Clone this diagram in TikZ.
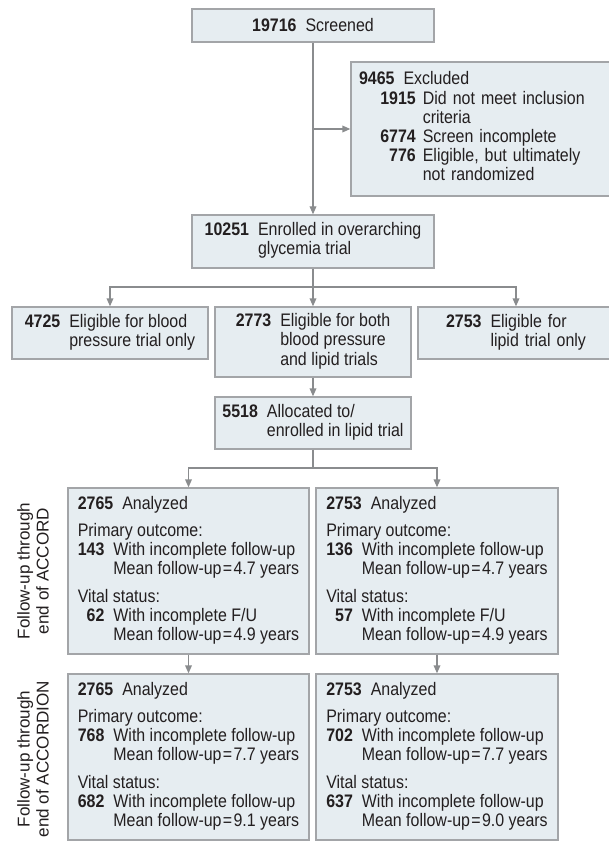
\documentclass[tikz,border=0pt]{standalone}
\usepackage{fontspec}
\setmainfont{Liberation Sans}[FakeStretch=0.88]
\newfontfamily\sidefont{Liberation Sans}
\usetikzlibrary{arrows.meta, positioning}

\definecolor{boxfill}{HTML}{E6EDF1}
\definecolor{boxline}{HTML}{A3A5A8}
\definecolor{linkgray}{HTML}{8A8C8E}
\definecolor{textdark}{HTML}{231F20}

% text of one analyzed arm
\newcommand{\analyzed}[6]{%
  \begin{tabular}{@{}r@{\hspace{6.75pt}}l@{}}
  \multicolumn{2}{@{}l@{}}{\textbf{#1}\hspace{6.75pt}Analyzed}\\[6pt]
  \multicolumn{2}{@{}l@{}}{Primary outcome:}\\
  \textbf{#2} & With incomplete follow-up\\
   & Mean follow-up\kern1pt=\kern1pt#3 years\\[6pt]
  \multicolumn{2}{@{}l@{}}{Vital status:}\\
  \textbf{#4} & With incomplete #5\\
   & Mean follow-up\kern1pt=\kern1pt#6 years
  \end{tabular}}

\begin{document}
\begin{tikzpicture}[
  x=0.75pt, y=-0.75pt,
  font=\fontsize{13.6pt}{14.4pt}\selectfont,
  box/.style={draw=boxline, fill=boxfill, line width=1pt, inner sep=0pt, text=textdark},
  edgebox/.style={box, inner ysep=0pt, align=left},
  link/.style={draw=linkgray, line width=1pt},
  arrow/.style={link, -{Triangle[length=6pt, width=5pt]}},
  side/.style={rotate=90, align=center, text=textdark,
    font=\sidefont\fontsize{12.8pt}{14.4pt}\selectfont}]

  \path[use as bounding box, fill=white] (0,0) rectangle (608,841);

  \node[box, minimum width=181.5pt, minimum height=24.75pt] (screen) at (313,25.5)
    {\textbf{19716}\hspace{6.75pt}Screened};
  % runs off the right edge, as in the print
  \node[edgebox, inner xsep=6pt, text width=204.75pt, minimum height=100.5pt] (excl) at (495.5,129) {%
    \begin{tabular}{@{}l@{}r@{\hspace{5.25pt}}l@{}}
    \multicolumn{3}{@{}l@{}}{\textbf{9465}\hspace{6.75pt}Excluded}\\
    \hspace{16pt} & \textbf{1915} & Did not meet inclusion\\
     & & criteria\\
     & \textbf{6774} & Screen incomplete\\
     & \textbf{776} & Eligible, but ultimately\\
     & & not randomized
    \end{tabular}};
  \node[box, minimum width=181.5pt, minimum height=39.75pt] (enrol) at (313,241.5) {%
    \begin{tabular}{@{}r@{\hspace{6.75pt}}l@{}}
    \textbf{10251} & Enrolled in overarching\\
     & glycemia trial
    \end{tabular}};

  % eligibility
  \node[box, minimum width=147pt, minimum height=39pt] (bp) at (110,333) {%
    \begin{tabular}{@{}r@{\hspace{6.75pt}}l@{}}
    \textbf{4725} & Eligible for blood\\
     & pressure trial only
    \end{tabular}};
  \node[box, minimum width=147pt, minimum height=52.5pt] (both) at (313,342) {%
    \begin{tabular}{@{}r@{\hspace{6.75pt}}l@{}}
    \textbf{2773} & Eligible for both\\
     & blood pressure\\
     & and lipid trials
    \end{tabular}};
  \node[edgebox, inner xsep=21pt, text width=124.5pt, minimum height=39pt] (lipid) at (529,333) {%
    \begin{tabular}{@{}r@{\hspace{6.75pt}}l@{}}
    \textbf{2753} & Eligible for\\
     & lipid trial only
    \end{tabular}};
  \node[box, minimum width=147pt, minimum height=39pt] (alloc) at (313,423) {%
    \begin{tabular}{@{}r@{\hspace{6.75pt}}l@{}}
    \textbf{5518} & Allocated to/\\
     & enrolled in lipid trial
    \end{tabular}};

  % arms
  \node[box, minimum width=180.75pt, minimum height=124.5pt] (accL) at (188.5,571)
    {\analyzed{2765}{143}{4.7}{62}{F/U}{4.9}};
  \node[box, minimum width=181.5pt, minimum height=124.5pt] (accR) at (437,571)
    {\analyzed{2753}{136}{4.7}{57}{F/U}{4.9}};
  \node[box, minimum width=180.75pt, minimum height=124.5pt] (acnL) at (188.5,757)
    {\analyzed{2765}{768}{7.7}{682}{follow-up}{9.1}};
  \node[box, minimum width=181.5pt, minimum height=124.5pt] (acnR) at (437,757)
    {\analyzed{2753}{702}{7.7}{637}{follow-up}{9.0}};

  \node[side] (lblA) at (33,571) {Follow-up through\\end of ACCORD};
  \node[side] (lblB) at (33,759) {Follow-up through\\end of ACCORDION};

  \coordinate (split) at (313,129);
  \coordinate (fork1) at (313,287);
  \coordinate (fork2) at (313,468);

  \draw[arrow] (screen) -- (enrol);
  \draw[arrow] (split) -- (split -| excl.west);
  \draw[link] (enrol) -- (fork1);
  \draw[arrow] (fork1) -| (bp);
  \draw[arrow] (fork1) -- (both);
  \draw[arrow] (fork1) -| ([xshift=-9.75pt]lipid.north);
  \draw[arrow] (both) -- (alloc);
  \draw[link] (alloc) -- (fork2);
  \draw[arrow] (fork2) -| (accL);
  \draw[arrow] (fork2) -| (accR);
  \draw[arrow] (accL) -- (acnL);
  \draw[arrow] (accR) -- (acnR);
\end{tikzpicture}
\end{document}
